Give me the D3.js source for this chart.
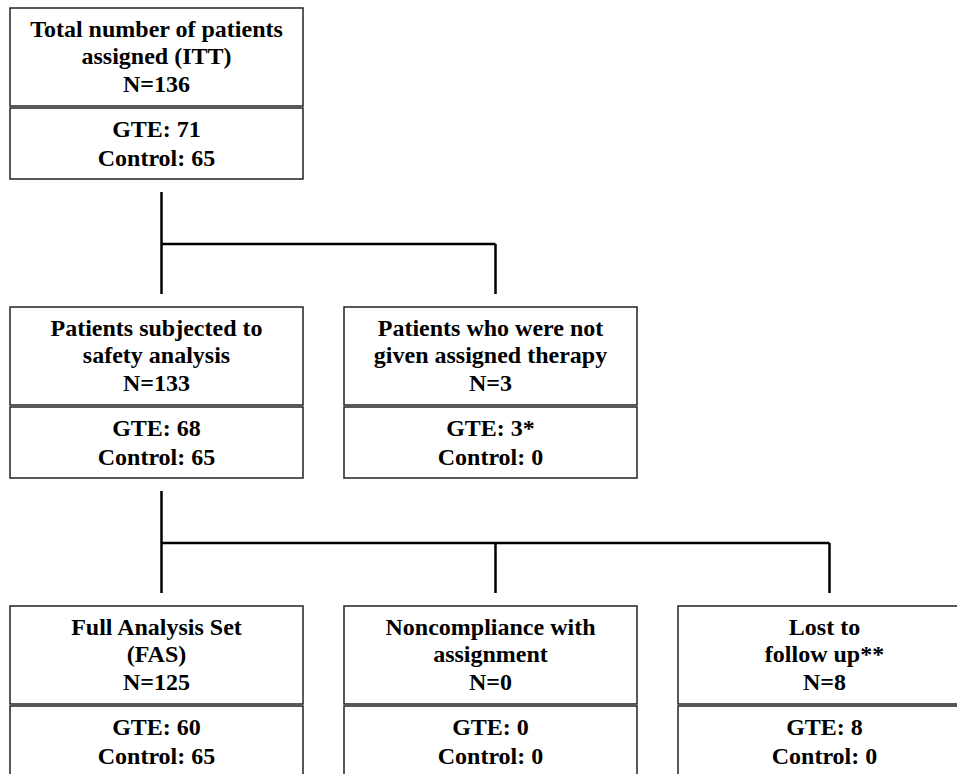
<!DOCTYPE html>
<html>
<head>
<meta charset="utf-8">
<script src="https://cdn.jsdelivr.net/npm/d3@7"></script>
<style>
  body { margin: 0; background: #fff; }
  svg { display: block; }
</style>
</head>
<body>
<script>
// flow chart data
const titles = [
  ['Total number of patients', 'assigned (ITT)'],
  ['Patients subjected to', 'safety analysis'],
  ['Patients who were not', 'given assigned therapy'],
  ['Full Analysis Set', '(FAS)'],
  ['Noncompliance with', 'assignment'],
  ['Lost to', 'follow up**']
]
const nTotals = [136, 133, 3, 125, 0, 8]
const gteCounts = [71, 68, 3, 60, 0, 8]
const gteNotes = ['', '', '*', '', '', '']
const controlCounts = [65, 65, 0, 65, 0, 0]
const levels = [0, 1, 1, 2, 2, 2]
const columns = [0, 0, 1, 0, 1, 2]
const parents = [null, 0, 0, 1, 1, 1]

const box = { width: 957, height: 774, boxW: 293, titleH: 98, gap: 2, countH: 71 }

const svg = d3.select('body').append('svg')
  .attr('width', box.width).attr('height', box.height)

const xScale = d3.scaleLinear().domain([0, 2]).range([10, 678])
const yScale = d3.scaleLinear().domain([0, 2]).range([8, 606])

const font = '"Liberation Serif", "Times New Roman", serif'

const nodes = titles.map((t, i) => ({
  lines: t.concat(['N=' + nTotals[i]]),
  counts: ['GTE: ' + gteCounts[i] + gteNotes[i], 'Control: ' + controlCounts[i]],
  x: xScale(columns[i]),
  y: yScale(levels[i]),
  parent: parents[i]
}))

// connectors: group children by parent
const links = svg.append('g').classed('links', true)
d3.groups(nodes.filter(d => d.parent !== null), d => d.parent).forEach(([p, kids]) => {
  const par = nodes[p]
  const px = par.x + box.boxW / 2 + 5
  const y0 = par.y + box.titleH + box.gap + box.countH + 13
  const y1 = kids[0].y - 13
  const ym = (y0 + y1) / 2 + 1
  const xs = kids.map(k => k.x + box.boxW / 2 + 5)
  const path = d3.path()
  path.moveTo(px, y0); path.lineTo(px, y1)
  path.moveTo(px, ym); path.lineTo(d3.max(xs), ym)
  xs.forEach(x => { if (x !== px) { path.moveTo(x, ym); path.lineTo(x, y1) } })
  links.append('path')
    .attr('d', path.toString())
    .attr('fill', 'none')
    .attr('stroke', '#000')
    .attr('stroke-width', 2.5)
})

const g = svg.append('g').classed('nodes', true)
  .selectAll('g').data(nodes).join('g')
  .attr('transform', d => `translate(${d.x},${d.y})`)

g.append('rect')
  .attr('x', 0).attr('y', 0)
  .attr('width', box.boxW).attr('height', box.titleH)
  .attr('fill', '#fff').attr('stroke', '#222').attr('stroke-width', 1.5)

g.append('rect')
  .attr('x', 0).attr('y', box.titleH + box.gap)
  .attr('width', box.boxW).attr('height', box.countH)
  .attr('fill', '#fff').attr('stroke', '#222').attr('stroke-width', 1.5)

g.each(function (d) {
  const sel = d3.select(this)
  d.lines.forEach((l, i) => {
    sel.append('text')
      .attr('x', box.boxW / 2).attr('y', 28.5 + i * 27.8)
      .attr('text-anchor', 'middle')
      .style('font-family', font).style('font-weight', 'bold').style('font-size', '24px')
      .text(l)
  })
  d.counts.forEach((l, i) => {
    sel.append('text')
      .attr('x', box.boxW / 2).attr('y', box.titleH + box.gap + 29 + i * 28.5)
      .attr('text-anchor', 'middle')
      .style('font-family', font).style('font-weight', 'bold').style('font-size', '24px')
      .text(l)
  })
})
</script>
</body>
</html>
